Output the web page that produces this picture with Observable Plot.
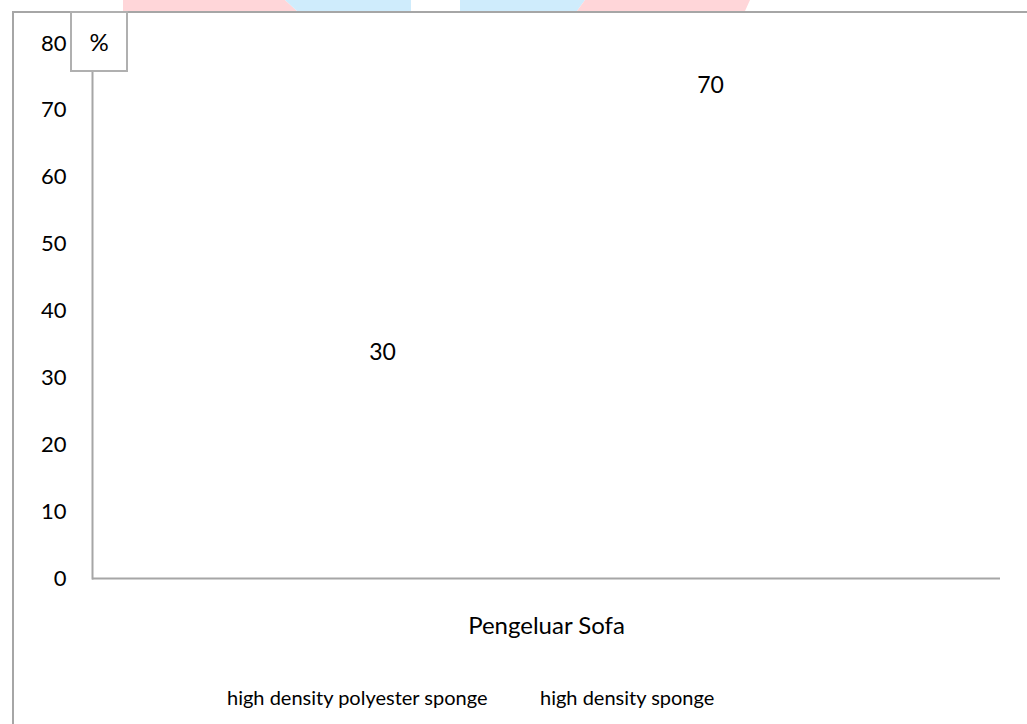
<!DOCTYPE html>
<html>
<head>
<meta charset="utf-8">
<script src="https://cdn.jsdelivr.net/npm/d3@7"></script>
<script src="https://cdn.jsdelivr.net/npm/@observablehq/plot@0.6"></script>
<style>
  html, body { margin: 0; padding: 0; background: #fff; }
  #wrap { position: relative; width: 1027px; height: 724px; overflow: hidden; font-family: Lato, "Open Sans", sans-serif; color: #000; }
  #chart { position: absolute; left: 0; top: 0; }
  .deco { position: absolute; }
  #frameTop { left: 12px; top: 11px; width: 1015px; height: 2px; background: #a6a6a6; }
  #frameLeft { left: 12px; top: 11px; width: 2px; height: 713px; background: #a6a6a6; }
  #unitBox { left: 70px; top: 11px; width: 54px; height: 57px; border: 2px solid #b0b0b0; background: #fff; box-sizing: content-box; font-size: 24px; display: flex; align-items: center; justify-content: center; }
  #legend { position: absolute; top: 684px; left: 0; width: 1027px; height: 28px; font-size: 20px; }
  #legend span { position: absolute; top: 1px; white-space: nowrap; }
</style>
</head>
<body>
<div id="wrap">
  <div id="chart"></div>
  <div class="deco" style="left:0;top:0;width:1027px;height:11px;">
    <div class="deco" style="left:123px;top:0;width:174px;height:11px;background:#ffd6d9;clip-path:polygon(0 0,162px 0,174px 100%,0 100%);"></div>
    <div class="deco" style="left:285px;top:0;width:126px;height:11px;background:#cfecfc;clip-path:polygon(0 0,126px 0,126px 100%,12px 100%);"></div>
    <div class="deco" style="left:460px;top:0;width:125px;height:11px;background:#cfecfc;clip-path:polygon(0 0,125px 0,117px 100%,0 100%);"></div>
    <div class="deco" style="left:577px;top:0;width:173px;height:11px;background:#ffd6d9;clip-path:polygon(8px 0,173px 0,168px 100%,0 100%);"></div>
  </div>
  <div id="frameTop" class="deco"></div>
  <div id="frameLeft" class="deco"></div>
  <div id="unitBox" class="deco">%</div>
  <div id="legend"></div>
</div>
<script>
// ---- data ----
const categories = ["Pengeluar Sofa"];
const seriesNames = ["high density polyester sponge", "high density sponge"];
const seriesValues = [30, 70];
const yTicks = [0, 10, 20, 30, 40, 50, 60, 70, 80];
const unitLabel = "%";

const rows = seriesNames.map((s, i) => ({category: categories[0], series: s, value: seriesValues[i]}));

const chart = Plot.plot({
  width: 1027,
  height: 724,
  marginLeft: 92,
  marginRight: 27,
  marginTop: 43,
  marginBottom: 146,
  style: {fontFamily: "Lato, 'Open Sans', sans-serif", fontSize: "22px", color: "#000", background: "transparent", overflow: "visible"},
  fx: {domain: categories, padding: 0},
  x: {domain: seriesNames, axis: null, paddingInner: 0.2, paddingOuter: 0.48},
  y: {domain: [0, 80], ticks: yTicks, tickSize: 0, tickPadding: 26, label: null, tickFormat: d => String(d)},
  marks: [
    Plot.axisFx({anchor: "bottom", tickSize: 0, tickPadding: 38, label: null, fontSize: 24}),
    Plot.barY(rows, {fx: "category", x: "series", y: "value", fill: "#ffffff"}),
    Plot.text(rows, {fx: "category", x: "series", y: "value", text: d => String(d.value), dy: -25, fontSize: 23, fill: "#000"}),
    Plot.frame({anchor: "left", stroke: "#a6a6a6", strokeWidth: 2}),
    Plot.ruleY([0], {stroke: "#a6a6a6", strokeWidth: 2})
  ]
});
document.getElementById("chart").appendChild(chart);
document.getElementById("unitBox").textContent = unitLabel;

const legendPos = [227, 540];
const legend = document.getElementById("legend");
seriesNames.forEach((s, i) => {
  const sp = document.createElement("span");
  sp.textContent = s;
  sp.style.left = legendPos[i] + "px";
  legend.appendChild(sp);
});
</script>
</body>
</html>
